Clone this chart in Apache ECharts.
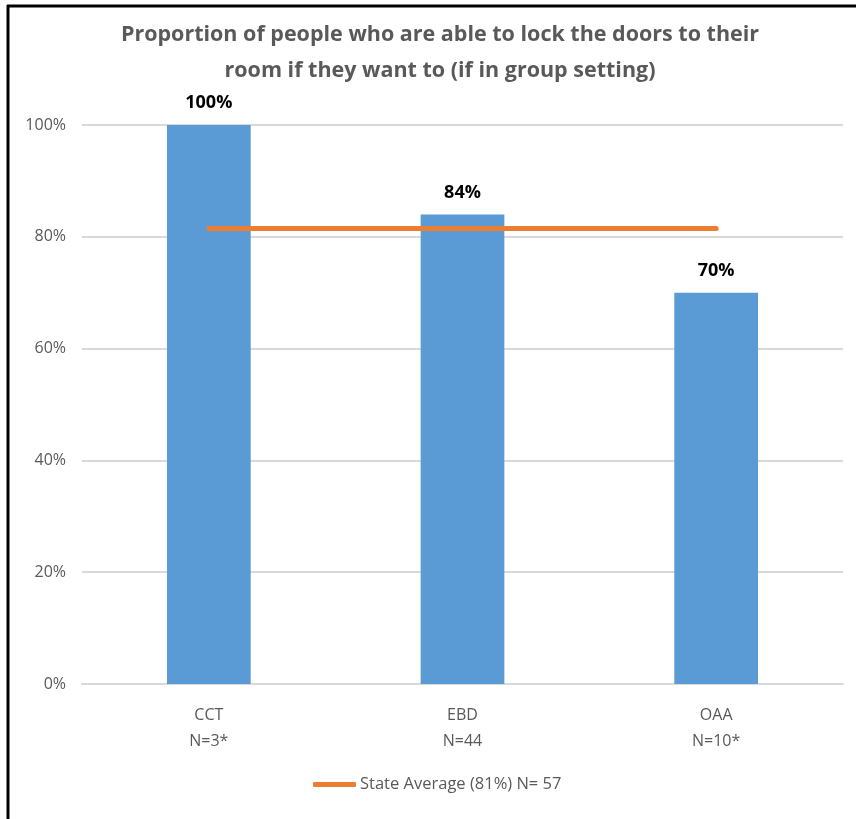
<!DOCTYPE html>
<html>
<head>
<meta charset="utf-8">
<script src="https://cdn.jsdelivr.net/npm/echarts@6/dist/echarts.min.js"></script>
<style>
html,body{margin:0;padding:0;background:#fff;}
#c{width:856px;height:819px;}
</style>
</head>
<body>
<div id="c"></div>
<script>
const categories = ['CCT\nN=3*', 'EBD\nN=44', 'OAA\nN=10*'];
const groupValues = [100, 84, 70];
const stateAverage = [81.5, 81.5, 81.5];
const yTicks = [0, 20, 40, 60, 80, 100];
const titleText = 'Proportion of people who are able to lock the doors to their\nroom if they want to (if in group setting)';
const legendName = 'State Average (81%) N= 57';

const FONT = "'Liberation Sans Narrow', 'Open Sans', sans-serif";
const chart = echarts.init(document.getElementById('c'), null, {renderer: 'canvas'});
chart.setOption({
  animation: false,
  title: {
    text: titleText,
    left: 435, top: 12, textAlign: 'center',
    textStyle: {fontFamily: FONT, fontSize: 21.5, fontWeight: 'bold', color: '#595959', lineHeight: 36}
  },
  grid: {left: 82, right: 13, top: 125, bottom: 135},
  legend: {
    bottom: 21, left: 308,
    data: [{name: legendName, icon: 'roundRect'}],
    itemWidth: 43, itemHeight: 5, itemGap: 2,
    textStyle: {fontFamily: FONT, fontSize: 16.5, color: '#595959', padding: [0, 0, 0, -1]}
  },
  xAxis: {
    type: 'category', data: categories,
    axisLine: {lineStyle: {color: '#d9d9d9', width: 2}},
    axisTick: {show: false},
    axisLabel: {fontFamily: FONT, fontSize: 16, color: '#595959', lineHeight: 26, margin: 18}
  },
  yAxis: {
    type: 'value', min: yTicks[0], max: yTicks[yTicks.length - 1], interval: 20,
    axisLine: {show: false}, axisTick: {show: false},
    splitLine: {lineStyle: {color: '#d9d9d9', width: 2}},
    axisLabel: {fontFamily: FONT, fontSize: 16, color: '#595959', margin: 16, formatter: v => v + '%'}
  },
  series: [
    {
      type: 'bar', name: 'Group', data: groupValues, barWidth: '33%',
      itemStyle: {color: '#5B9BD5'},
      label: {show: true, position: 'top', distance: 13, formatter: p => p.value + '%',
        fontFamily: FONT, fontSize: 18, fontWeight: 'bold', color: '#000'}
    },
    {
      type: 'line', name: legendName, data: stateAverage, symbol: 'none',
      lineStyle: {color: '#ED7D31', width: 5, cap: 'round'},
      itemStyle: {color: '#ED7D31'}
    }
  ],
  graphic: [
    {type: 'line', shape: {x1: 7, y1: 6, x2: 856, y2: 6}, style: {stroke: '#000', lineWidth: 3}},
    {type: 'line', shape: {x1: 8, y1: 5, x2: 8, y2: 819}, style: {stroke: '#000', lineWidth: 3}}
  ]
});
</script>
</body>
</html>
